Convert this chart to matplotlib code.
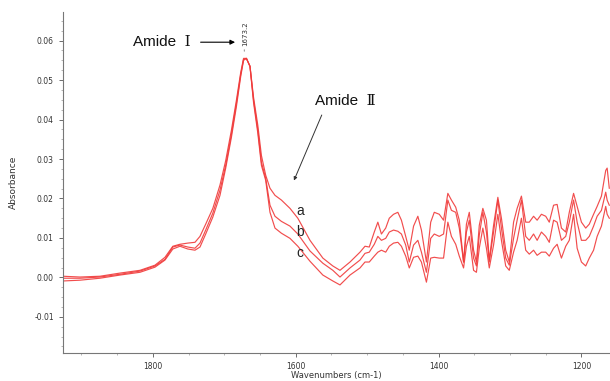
import matplotlib
matplotlib.use("Agg")
import matplotlib.pyplot as plt
from matplotlib.ticker import MultipleLocator

wavenumber = [1926, 1902, 1874, 1846, 1818, 1797, 1783, 1772, 1762, 1751, 1741, 1734, 1726, 1716,
              1706, 1698, 1690, 1683, 1677, 1673, 1669, 1664, 1659, 1653, 1648, 1642, 1636, 1629,
              1620, 1608, 1597, 1580, 1562, 1548, 1538, 1524, 1510, 1503, 1497, 1490, 1485, 1480,
              1474, 1469, 1463, 1457, 1452, 1446, 1441, 1435, 1429, 1424, 1417, 1411, 1406, 1399,
              1393, 1387, 1382, 1376, 1371, 1365, 1361, 1357, 1351, 1347, 1343, 1338, 1333, 1329,
              1323, 1317, 1312, 1306, 1301, 1295, 1290, 1284, 1278, 1273, 1267, 1262, 1256, 1250,
              1245, 1239, 1234, 1228, 1222, 1217, 1211, 1206, 1200, 1194, 1189, 1183, 1178, 1172,
              1166, 1164, 1161]

absorbance_a = [0.0003, 0.0001, 0.0003, 0.0011, 0.0018, 0.0031, 0.0051, 0.0079, 0.0084, 0.0087,
                0.0089, 0.0104, 0.0135, 0.0175, 0.0234, 0.0296, 0.0373, 0.0449, 0.0519, 0.0555,
                0.0555, 0.0535, 0.0456, 0.0385, 0.0309, 0.0259, 0.0226, 0.0208, 0.0196, 0.0175,
                0.0150, 0.0094, 0.0049, 0.0029, 0.0018, 0.0039, 0.0064, 0.0079, 0.0077, 0.0115,
                0.0140, 0.0110, 0.0125, 0.0150, 0.0160, 0.0165, 0.0145, 0.0104, 0.0069, 0.0130,
                0.0155, 0.0120, 0.0039, 0.0140, 0.0165, 0.0160, 0.0145, 0.0213, 0.0196, 0.0178,
                0.0145, 0.0039, 0.0135, 0.0165, 0.0069, 0.0039, 0.0132, 0.0175, 0.0145, 0.0044,
                0.0132, 0.0203, 0.0150, 0.0069, 0.0039, 0.0140, 0.0175, 0.0206, 0.0140, 0.0140,
                0.0155, 0.0145, 0.0160, 0.0155, 0.0140, 0.0183, 0.0185, 0.0125, 0.0115, 0.0165,
                0.0213, 0.0180, 0.0140, 0.0125, 0.0135, 0.0160, 0.0180, 0.0206, 0.0271, 0.0277,
                0.0226]

absorbance_b = [-0.0002, -0.0002, 0.0001, 0.0008, 0.0016, 0.0029, 0.0046, 0.0077, 0.0082, 0.0077,
                0.0074, 0.0087, 0.0120, 0.0163, 0.0221, 0.0284, 0.0363, 0.0441, 0.0514, 0.0552,
                0.0555, 0.0535, 0.0449, 0.0373, 0.0292, 0.0251, 0.0183, 0.0155, 0.0142, 0.0130,
                0.0110, 0.0067, 0.0036, 0.0018, 0.0001, 0.0024, 0.0044, 0.0061, 0.0064, 0.0084,
                0.0104, 0.0094, 0.0099, 0.0115, 0.0120, 0.0117, 0.0110, 0.0082, 0.0039, 0.0082,
                0.0094, 0.0064, 0.0013, 0.0099, 0.0110, 0.0104, 0.0110, 0.0196, 0.0170, 0.0165,
                0.0125, 0.0039, 0.0115, 0.0145, 0.0049, 0.0029, 0.0107, 0.0165, 0.0115, 0.0039,
                0.0115, 0.0196, 0.0125, 0.0049, 0.0031, 0.0099, 0.0145, 0.0196, 0.0104, 0.0094,
                0.0110, 0.0094, 0.0115, 0.0104, 0.0089, 0.0145, 0.0140, 0.0094, 0.0104, 0.0140,
                0.0196, 0.0140, 0.0094, 0.0094, 0.0104, 0.0130, 0.0155, 0.0170, 0.0216, 0.0196,
                0.0183]

absorbance_c = [-0.0009, -0.0007, -0.0002, 0.0006, 0.0013, 0.0026, 0.0044, 0.0072, 0.0079, 0.0072,
                0.0069, 0.0077, 0.0110, 0.0153, 0.0208, 0.0277, 0.0355, 0.0433, 0.0509, 0.0550,
                0.0555, 0.0535, 0.0443, 0.0365, 0.0284, 0.0246, 0.0165, 0.0125, 0.0112, 0.0099,
                0.0079, 0.0041, 0.0006, -0.0009, -0.0019, 0.0006, 0.0024, 0.0039, 0.0039, 0.0054,
                0.0064, 0.0069, 0.0064, 0.0079, 0.0087, 0.0089, 0.0079, 0.0054, 0.0024, 0.0051,
                0.0054, 0.0039, -0.0012, 0.0049, 0.0051, 0.0049, 0.0049, 0.0140, 0.0104, 0.0084,
                0.0054, 0.0024, 0.0079, 0.0104, 0.0018, 0.0013, 0.0074, 0.0125, 0.0074, 0.0024,
                0.0082, 0.0160, 0.0094, 0.0029, 0.0018, 0.0064, 0.0094, 0.0150, 0.0069, 0.0059,
                0.0069, 0.0056, 0.0064, 0.0064, 0.0054, 0.0074, 0.0084, 0.0049, 0.0079, 0.0094,
                0.0160, 0.0074, 0.0039, 0.0029, 0.0049, 0.0069, 0.0104, 0.0130, 0.0180, 0.0160,
                0.0150]

x_ticks = [1800, 1600, 1400, 1200]
y_ticks = [-0.01, 0.00, 0.01, 0.02, 0.03, 0.04, 0.05, 0.06]
y_tick_labels = ["-0.01", "0.00", "0.01", "0.02", "0.03", "0.04", "0.05", "0.06"]

fig = plt.figure(figsize=(6.10, 3.81), dpi=100)
ax = fig.add_axes([0.103, 0.074, 0.897, 0.895])

line_color = "#f03a3a"
for series in (absorbance_a, absorbance_b, absorbance_c):
    ax.plot(wavenumber, series, color=line_color, lw=0.85, alpha=0.9)

ax.set_xlim(1926, 1160)
ax.set_ylim(-0.0191, 0.0673)

for s in ("top", "right"):
    ax.spines[s].set_visible(False)
for s in ("left", "bottom"):
    ax.spines[s].set_color("#777777")
    ax.spines[s].set_linewidth(0.8)

ax.set_xticks(x_ticks)
ax.set_xticklabels([str(v) for v in x_ticks])
ax.set_yticks(y_ticks)
ax.set_yticklabels(y_tick_labels)
ax.xaxis.set_minor_locator(MultipleLocator(50))
ax.yaxis.set_minor_locator(MultipleLocator(0.0025))
ax.tick_params(axis="both", which="major", labelsize=5.5, colors="#555555",
               length=3, width=0.6, labelcolor="#333333")
ax.tick_params(axis="both", which="minor", length=1.5, width=0.5, colors="#999999")

ax.set_ylabel("Absorbance", fontsize=6.5, color="#333333", labelpad=12)
ax.set_xlabel("Wavenumbers (cm-1)", fontsize=6, color="#333333", va="top")
ax.xaxis.set_label_coords(0.5, -0.052)

fam = ["Liberation Sans", "DejaVu Serif", "Noto Sans CJK SC"]

# Amide I annotation
ax.annotate("", xy=(1681, 0.0596), xytext=(1737, 0.0596),
            arrowprops=dict(arrowstyle="-|>", color="black", lw=0.8, mutation_scale=7))
ax.text(1828, 0.0596, "Amide  Ⅰ", family=fam, fontsize=11, ha="left", va="center", color="#111111")
ax.text(1671, 0.0617, "1673.2", rotation=90, fontsize=5, ha="center", va="center", color="#333333")
ax.annotate("", xy=(1672, 0.0566), xytext=(1672, 0.0584),
            arrowprops=dict(arrowstyle="-", color="#777777", lw=0.6))

# Amide II annotation
ax.text(1573, 0.0446, "Amide  Ⅱ", family=fam, fontsize=11, ha="left", va="center", color="#111111")
ax.annotate("", xy=(1604, 0.0239), xytext=(1562, 0.0418),
            arrowprops=dict(arrowstyle="-|>", color="#333333", lw=0.7, mutation_scale=5))

# curve labels
for lbl, yv in (("a", 0.0168), ("b", 0.0115), ("c", 0.0061)):
    ax.text(1594, yv, lbl, family=fam, fontsize=10, ha="center", va="center", color="#222222")

fig.savefig("out.png", dpi=100)
